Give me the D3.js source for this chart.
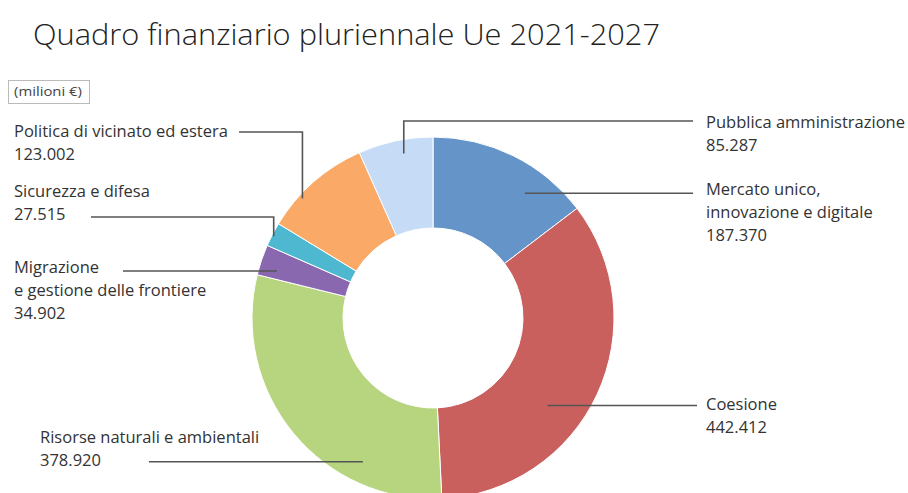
<!DOCTYPE html>
<html>
<head>
<meta charset="utf-8">
<script src="https://cdn.jsdelivr.net/npm/d3@7"></script>
<style>
  body { margin: 0; background: #fff; }
  svg { font-family: 'Open Sans', 'Noto Sans', sans-serif; }
</style>
</head>
<body>
<div id="chart"></div>
<script>
// data, clockwise from 12 o'clock
const categories = [
  'Mercato unico,|innovazione e digitale',
  'Coesione',
  'Risorse naturali e ambientali',
  'Migrazione|e gestione delle frontiere',
  'Sicurezza e difesa',
  'Politica di vicinato ed estera',
  'Pubblica amministrazione'
];
const values = [187.370, 442.412, 378.920, 34.902, 27.515, 123.002, 85.287];
const valueLabels = ['187.370', '442.412', '378.920', '34.902', '27.515', '123.002', '85.287'];
const colors = ['#6594c8', '#c9605e', '#b7d57e', '#8a68b0', '#4db8d0', '#faaa66', '#c6dbf6'];

// label placement: anchor inside slice (t along slice, r radius), label pos, elbow
const layout = [
  { t: 0.69, r: 155, lx: 706, ly: 195, lineY: null, lineEnd: 693 },
  { t: 0.60, r: 144, lx: 706, ly: 410, lineY: null, lineEnd: 697 },
  { t: 0.27, r: 160, lx: 40, ly: 443, lineY: null, lineEnd: 149 },
  { t: 0.30, r: 163, lx: 14, ly: 273, lineY: null, lineEnd: 123 },
  { t: 0.45, r: 179, lx: 14, ly: 197, lineY: 217, lineEnd: 91 },
  { t: 0.32, r: 177, lx: 14, ly: 137, lineY: 132, lineEnd: 239 },
  { t: 0.58, r: 167, lx: 706, ly: 128, lineY: 121, lineEnd: 693 }
];

const width = 908;
const height = 493;
const cx = 433;
const cy = 318;
const outerR = 181;
const innerR = 90;

const svg = d3.select('#chart')
  .append('svg')
  .attr('width', width)
  .attr('height', height);

svg.append('text')
  .attr('x', 33)
  .attr('y', 45)
  .attr('font-size', 29)
  .attr('font-weight', 300)
  .attr('fill', '#222')
  .attr('textLength', 627)
  .attr('lengthAdjust', 'spacingAndGlyphs')
  .text('Quadro finanziario pluriennale Ue 2021-2027');

svg.append('rect')
  .attr('x', 8.5)
  .attr('y', 80.5)
  .attr('width', 81)
  .attr('height', 23)
  .attr('fill', '#fff')
  .attr('stroke', '#bbb');

svg.append('text')
  .attr('x', 14)
  .attr('y', 96)
  .attr('font-size', 12.5)
  .attr('fill', '#444')
  .attr('textLength', 68)
  .attr('lengthAdjust', 'spacingAndGlyphs')
  .text('(milioni €)');

const pie = d3.pie().sort(null).value((d) => d);
const arcs = pie(values);

const arc = d3.arc().innerRadius(innerR).outerRadius(outerR);

const g = svg.append('g').attr('transform', `translate(${cx},${cy})`);

g.selectAll('path')
  .data(arcs)
  .enter()
  .append('path')
  .attr('d', arc)
  .attr('fill', (d, i) => colors[i])
  .attr('stroke', '#fff')
  .attr('stroke-width', 1);

// leader lines
arcs.forEach((d, i) => {
  const l = layout[i];
  const a = d.startAngle + l.t * (d.endAngle - d.startAngle);
  const px = cx + l.r * Math.sin(a);
  const py = cy - l.r * Math.cos(a);
  const pts = [[px, py]];
  if (l.lineY != null) {
    pts.push([px, l.lineY]);
    pts.push([l.lineEnd, l.lineY]);
  } else {
    pts.push([l.lineEnd, py]);
  }
  svg.append('path')
    .attr('d', d3.line()(pts))
    .attr('fill', 'none')
    .attr('stroke', '#555')
    .attr('stroke-width', 1.6);
});

// labels
categories.forEach((c, i) => {
  const l = layout[i];
  const lines = c.split('|').concat([valueLabels[i]]);
  const t = svg.append('text')
    .attr('x', l.lx)
    .attr('y', l.ly)
    .attr('font-size', 16.5)
    .attr('fill', '#333');
  lines.forEach((s, k) => {
    t.append('tspan')
      .attr('x', l.lx)
      .attr('dy', k === 0 ? 0 : 23)
      .text(s);
  });
});
</script>
</body>
</html>
